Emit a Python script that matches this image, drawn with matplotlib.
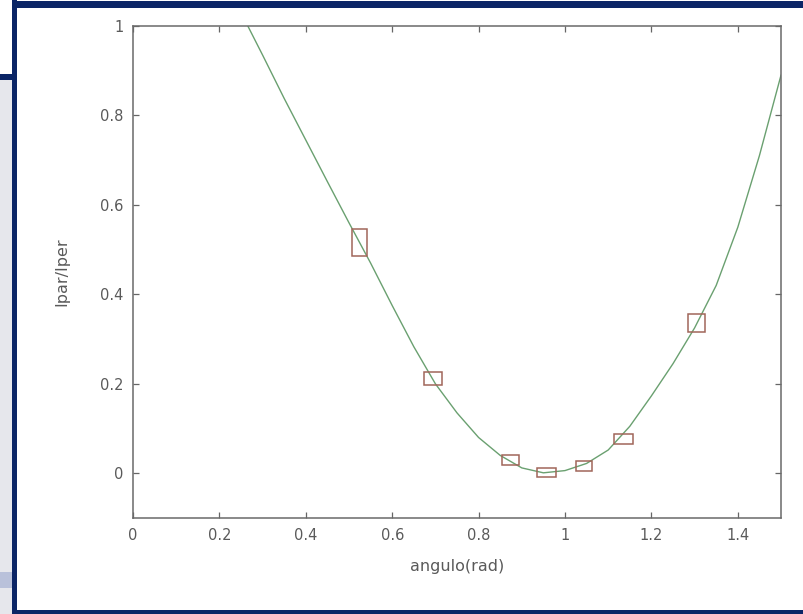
import matplotlib
matplotlib.use("Agg")
import matplotlib.pyplot as plt
from matplotlib.patches import Rectangle

plt.rcParams["font.family"] = ["DejaVu Sans"]

# ---- curve Ipar/Iper vs angle
curve_x = [0.20, 0.25, 0.30, 0.35, 0.40, 0.45, 0.50, 0.55, 0.60, 0.65,
           0.70, 0.75, 0.80, 0.85, 0.90, 0.95, 1.00, 1.05, 1.10, 1.15,
           1.20, 1.25, 1.30, 1.35, 1.40, 1.45, 1.50]
curve_y = [1.13, 1.03, 0.935, 0.838, 0.745, 0.652, 0.560, 0.470, 0.375, 0.283,
           0.200, 0.135, 0.080, 0.040, 0.012, 0.001, 0.006, 0.022, 0.052, 0.105,
           0.173, 0.245, 0.325, 0.420, 0.550, 0.710, 0.890]

# ---- measured points (box = x ± dx, y ± dy)
pts_x = [0.524, 0.694, 0.874, 0.957, 1.044, 1.135, 1.304]
pts_y = [0.516, 0.211, 0.029, 0.001, 0.016, 0.076, 0.336]
pts_dx = [0.017, 0.021, 0.020, 0.022, 0.0185, 0.022, 0.020]
pts_dy = [0.030, 0.0145, 0.011, 0.010, 0.011, 0.011, 0.020]

xticks = [0, 0.2, 0.4, 0.6, 0.8, 1, 1.2, 1.4]
xtick_labels = ["0", "0.2", "0.4", "0.6", "0.8", "1", "1.2", "1.4"]
yticks = [0, 0.2, 0.4, 0.6, 0.8, 1]
ytick_labels = ["0", "0.2", "0.4", "0.6", "0.8", "1"]

W, H = 804, 614
NAVY = "#0b2566"
fig = plt.figure(figsize=(W / 100, H / 100), dpi=100)
fig.patch.set_facecolor("white")


def px_rect(x0, y0, x1, y1, color, z=0):
    # pixel box (top-left origin) -> figure fraction
    fig.patches.append(Rectangle((x0 / W, 1 - y1 / H), (x1 - x0) / W, (y1 - y0) / H,
                                 transform=fig.transFigure, facecolor=color,
                                 edgecolor="none", zorder=z))


# slide background pieces
px_rect(0, 80, 12, 614, "#e6e7ec")
px_rect(0, 572, 12, 588, "#b9c1da")
px_rect(0, 74, 14, 80, NAVY)
px_rect(12, 0, 17, 614, NAVY)
px_rect(12, 1, 804, 8, NAVY)
px_rect(12, 610, 804, 614, NAVY)

ax = fig.add_axes([133 / W, 1 - 518 / H, (781 - 133) / W, (518 - 26) / H])
ax.set_facecolor("white")

ax.plot(curve_x, curve_y, color="#6aa070", lw=1.0, zorder=2)

for x, y, dx, dy in zip(pts_x, pts_y, pts_dx, pts_dy):
    ax.add_patch(Rectangle((x - dx, y - dy), 2 * dx, 2 * dy, fill=False,
                           edgecolor="#a0665a", lw=1.1, zorder=3))

ax.set_xlim(0, 1.5)
ax.set_ylim(-0.1, 1.0)
ax.set_xticks(xticks)
ax.set_xticklabels(xtick_labels)
ax.set_yticks(yticks)
ax.set_yticklabels(ytick_labels)
ax.tick_params(direction="in", length=4, width=0.9, color="#666666",
               labelcolor="#5a5a5a", labelsize=10.5, pad=7,
               top=True, right=True)
for s in ax.spines.values():
    s.set_color("#6a6a6a")
    s.set_linewidth(1.1)

ax.set_xlabel("angulo(rad)", fontsize=11.5, color="#5a5a5a", labelpad=12)
ax.set_ylabel("Ipar/Iper", fontsize=11.5, color="#5a5a5a", labelpad=22)

fig.savefig("out.png", dpi=100)
